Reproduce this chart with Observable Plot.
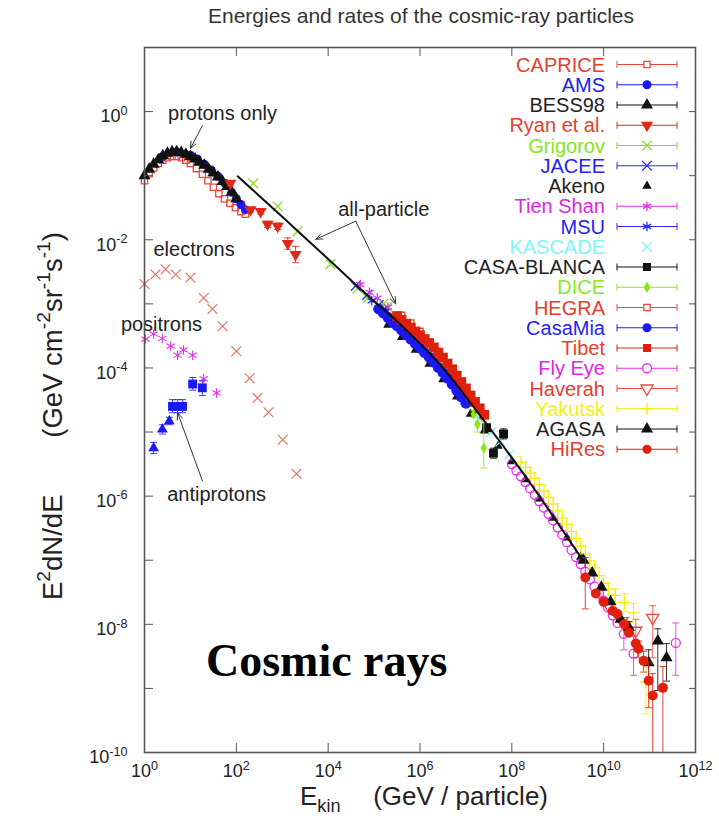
<!DOCTYPE html>
<html><head><meta charset="utf-8">
<script src="https://cdn.jsdelivr.net/npm/d3@7"></script>
<script src="https://cdn.jsdelivr.net/npm/@observablehq/plot@0.6"></script>
<style>
html,body{margin:0;padding:0;background:#fff;overflow:hidden;}
#chart svg{display:block;font-family:"Liberation Sans",Arial,sans-serif;}
#chart svg text{white-space:pre;}
</style></head><body><div id="chart"></div>
<script>
// ---------- data: [E (GeV), E^2 dN/dE, errLow, errHigh] ----------
const CAPRICE = [[1,0.0832],[1.26,0.107],[1.58,0.132],[2.0,0.155],[2.51,0.174],[3.16,0.191],[3.98,0.2],[5.01,0.2],[6.31,0.191],[7.94,0.174],[10,0.155],[13.5,0.129],[18.2,0.105],[24,0.0832],[31.6,0.0661],[41.7,0.0525],[55,0.0437],[72.4,0.0372],[95.5,0.0316],[126,0.0275],[158,0.0251]];
const AMS = [[2.51,0.2],[5.01,0.234],[10,0.209],[14.1,0.182],[20,0.151],[28.2,0.123],[39.8,0.0977],[56.2,0.0759],[79.4,0.055],[100,0.0437],[126,0.0355],[158,0.0295]];
const BESS98 = [[1,0.1],[1.26,0.126],[1.58,0.151],[2.0,0.178],[2.51,0.204],[3.16,0.224],[3.98,0.237],[5.01,0.237],[6.31,0.229],[7.94,0.216],[10,0.2],[12.6,0.182],[15.8,0.164],[20,0.145],[25.1,0.126],[31.6,0.11],[39.8,0.0955],[50.1,0.0813],[63.1,0.0676],[79.4,0.055],[100,0.0437]];
const RYAN = [[74.1,0.0759,0.069,0.083],[204,0.0295,0.027,0.032],[339,0.0275,0.025,0.030],[479,0.0174,0.0155,0.0195],[794,0.0162,0.0145,0.0182],[1318,0.00871,0.0071,0.0107],[1950,0.00589,0.0044,0.0079]];
const GRIGOROV = [[234,0.0759],[794,0.0331],[2138,0.0135],[11220,0.00417],[43650,0.00174],[72400,0.00123],[158500,0.001],[195000,0.00089]];
const JACEE = [[39800,0.00191],[70800,0.00138],[126000,0.000955],[251000,0.000631],[501000,0.000417]];
const AKENO = [[2.0e5,4.68e-4],[3.98e5,3.02e-4],[7.94e5,1.91e-4],[1.58e6,1.15e-4],[3.16e6,6.61e-5],[6.31e6,3.55e-5],[1.26e7,1.91e-5],[2.51e7,1.05e-5],[5.01e7,6.03e-6],[1e8,3.47e-6],[2.0e8,1.82e-6],[3.98e8,9.12e-7],[7.94e8,4.57e-7],[1.58e9,2.24e-7],[3.16e9,1.12e-7]];
const TIENSHAN = [[50100,0.002],[79400,0.00151],[117500,0.00123],[200000,0.000891],[2.0e6,1.58e-4],[6.31e6,7.08e-5]];
const MSU = [[89100,0.00112],[178000,0.000759]];
const KASCADE = [[2.51e6,1.05e-4],[5.01e6,6.03e-5],[1e7,3.16e-5],[2.0e7,1.66e-5],[3.55e7,1e-5],[5.62e7,7.08e-6],[8.91e7,4.47e-6],[1.41e8,2.82e-6]];
const CASABLANCA = [[2.82e7,1.17e-5,1.05e-5,1.3e-5],[3.98e7,4.68e-6,3.9e-6,5.6e-6],[6.61e7,9.33e-6,7.8e-6,1.12e-5]];
const DICE = [[1.12e7,2.82e-5,2.5e-5,3.2e-5],[1.48e7,1.91e-5,1.7e-5,2.15e-5],[1.78e7,1.32e-5,1.0e-5,1.7e-5],[2.45e7,5.62e-6,2.75e-6,1.48e-5]];
const HEGRA = [[3.98e5,6.61e-4],[6.31e5,5.01e-4],[1e6,3.72e-4]];
const CASAMIA = [[1.26e5,8.32e-4],[1.58e5,7.24e-4],[2.0e5,6.17e-4],[2.51e5,5.25e-4],[3.16e5,4.57e-4],[3.98e5,3.89e-4],[5.01e5,3.31e-4],[6.31e5,2.82e-4],[7.94e5,2.4e-4],[1e6,2.04e-4],[1.26e6,1.74e-4],[1.58e6,1.48e-4],[2.0e6,1.23e-4],[2.51e6,1.02e-4],[3.16e6,8.51e-5],[3.98e6,6.92e-5],[5.01e6,5.62e-5],[6.31e6,4.47e-5],[7.94e6,3.55e-5],[1e7,2.82e-5]];
const TIBET = [[3.16e5,6.46e-4],[3.98e5,5.62e-4],[5.01e5,4.9e-4],[6.31e5,4.27e-4],[7.94e5,3.72e-4],[1e6,3.24e-4],[1.26e6,2.82e-4],[1.58e6,2.45e-4],[2.0e6,2.09e-4],[2.51e6,1.74e-4],[3.16e6,1.45e-4],[3.98e6,1.17e-4],[5.01e6,9.55e-5],[6.31e6,7.59e-5],[7.94e6,6.03e-5],[1e7,4.79e-5],[1.26e7,3.72e-5],[1.58e7,2.95e-5],[2.0e7,2.34e-5],[2.51e7,1.86e-5]];
const FLYEYE = [[1e8,3.16e-6],[1.26e8,2.51e-6],[1.58e8,2.04e-6],[2.0e8,1.66e-6],[2.51e8,1.32e-6],[3.16e8,1.05e-6],[3.98e8,8.32e-7],[5.01e8,6.61e-7],[6.31e8,5.25e-7],[7.94e8,4.17e-7],[1e9,3.24e-7],[1.26e9,2.51e-7],[1.58e9,1.91e-7],[2.0e9,1.45e-7],[2.51e9,1.12e-7],[3.16e9,8.71e-8],[3.98e9,6.61e-8],[5.01e9,5.01e-8],[6.31e9,3.89e-8],[7.94e9,3.02e-8],[1e10,2.34e-8],[1.26e10,1.82e-8],[1.58e10,1.38e-8],[2.0e10,1.05e-8],[2.75e10,7.08e-9,4.0e-9,1.1e-8],[4.47e10,3.5e-9,1.6e-9,6.5e-9],[3.72e11,5.13e-9,1.6e-9,1.05e-8]];
const HAVERAH = [[1.26e10,2.0e-8],[2.51e10,1.12e-8],[5.01e10,7.94e-9,5.0e-9,1.2e-8],[1.17e11,1.26e-8,3.0e-9,1.95e-8]];
const YAKUTSK = [[1.58e8,3.39e-6],[2.0e8,2.82e-6],[2.51e8,2.29e-6],[3.16e8,1.91e-6],[3.98e8,1.51e-6],[5.01e8,1.2e-6],[6.31e8,9.55e-7],[7.94e8,7.59e-7],[1e9,5.89e-7],[1.26e9,4.57e-7],[1.58e9,3.63e-7],[2.0e9,2.82e-7],[2.51e9,2.19e-7],[3.16e9,1.66e-7],[3.98e9,1.26e-7],[5.01e9,9.77e-8],[6.31e9,7.59e-8],[7.94e9,5.75e-8],[1e10,4.37e-8],[1.26e10,3.55e-8,2.8e-8,4.4e-8],[1.78e10,2.82e-8,2.2e-8,3.6e-8],[2.82e10,2.19e-8,1.6e-8,3.0e-8],[4.47e10,1.51e-8,1.05e-8,2.1e-8],[8.32e10,1.26e-9,4.0e-10,2.1e-9]];
const AGASA = [[3.63e9,1.0e-7],[5.62e9,6.31e-8],[8.91e9,3.8e-8],[1.41e10,2.24e-8],[2.34e10,1.2e-8],[3.55e10,8.91e-9,7.0e-9,1.1e-8],[9.55e10,2.51e-9,1.26e-9,4.0e-9],[1.51e11,5.5e-9,9.3e-10,8.5e-9],[2.34e11,3.02e-9,1.3e-9,5.0e-9]];
const HIRES = [[3.98e9,5.37e-8,1.74e-8,1.1e-7],[6.76e9,3.02e-8],[1e10,2.24e-8],[1.58e10,1.62e-8],[2.0e10,1.45e-8],[2.82e10,1.0e-8],[3.55e10,7.41e-9],[5.01e10,5.01e-9],[5.75e10,4.17e-9,3.0e-9,5.5e-9],[7.41e10,2.69e-9,1.8e-9,3.8e-9],[9.55e10,1.32e-9,5e-10,2.5e-9],[1.17e11,7.76e-10,1e-10,1.7e-9],[1.95e11,1.02e-9,1e-10,2.2e-9]];
const ELECTRONS = [[1,2.04e-3],[1.74,2.88e-3],[2.88,3.47e-3],[4.79,2.88e-3],[10,2.57e-3],[19.5,1.23e-3],[30.2,8.32e-4],[50.1,4.47e-4],[100,1.82e-4],[195,6.92e-5],[288,3.39e-5],[501,2.04e-5],[1023,7.59e-6],[2042,2.24e-6]];
const POSITRONS = [[1.05,2.82e-4],[1.58,3.39e-4],[2.45,2.88e-4],[3.72,2.19e-4],[5.25,1.58e-4],[7.08,1.91e-4],[11.2,1.58e-4],[19.5,6.76e-5],[37.2,4.07e-5]];
const ANTIP_TRI = [[1.58,5.62e-6,4.6e-6,6.9e-6],[2.45,1.1e-5,9.3e-6,1.3e-5],[3.47,1.48e-5,1.3e-5,1.7e-5]];
const ANTIP_SQ = [[4.07,2.51e-5,2.0e-5,3.2e-5],[5.25,2.51e-5,2.0e-5,3.2e-5],[6.76,2.51e-5,2.0e-5,3.2e-5],[11.2,5.62e-5,4.5e-5,7.1e-5],[18.2,4.9e-5,3.7e-5,6.3e-5]];
const ALL_PARTICLE = [[107,0.0977],[1000,0.0229],[1e4,5.01e-3],[1e5,1.1e-3],[3.16e5,5.37e-4],[1e6,2.4e-4],[3.16e6,1e-4],[1e7,3.55e-5],[3.16e7,1.2e-5],[1e8,3.98e-6],[3.16e8,1.26e-6],[1e9,3.8e-7],[3.16e9,1.12e-7]];

const legendNames = ["CAPRICE","AMS","BESS98","Ryan et al.","Grigorov","JACEE","Akeno","Tien Shan","MSU","KASCADE","CASA-BLANCA","DICE","HEGRA","CasaMia","Tibet","Fly Eye","Haverah","Yakutsk","AGASA","HiRes"];
const legendData = [CAPRICE,AMS,BESS98,RYAN,GRIGOROV,JACEE,AKENO,TIENSHAN,MSU,KASCADE,CASABLANCA,DICE,HEGRA,CASAMIA,TIBET,FLYEYE,HAVERAH,YAKUTSK,AGASA,HIRES];

const annotLabels = ["protons only","all-particle","electrons","positrons","antiprotons"];
const annotE = [50, 1.62e5, 12, 2.34, 37.2];
const annotF = [0.93, 0.0295, 7.08e-3, 4.68e-4, 1.07e-6];
const arrowFrom = [[18.2,0.603],[3.98e4,0.0195],[3.98e4,0.0195],[18.2,1.74e-6]];
const arrowTo = [[10,0.265],[5.37e3,0.0102],[2.95e5,1e-3],[5.25,2.0e-5]];
const bigLabel = {text:"Cosmic rays", E:9.3e3, F:2.69e-9};

const xLabelTicks = [1,1e2,1e4,1e6,1e8,1e10,1e12];
const xMinorTicks = [1e2,1e4,1e6,1e8,1e10];
const yLabelTicks = [1e-10,1e-8,1e-6,1e-4,1e-2,1];
const yMinorTicks = [1e-9,1e-8,1e-7,1e-6,1e-5,1e-4,1e-3,1e-2,1e-1,1];

// ---------- styles ----------
const triDown = {draw(ctx, size){ const y = -Math.sqrt(size/(Math.sqrt(3)*3)); ctx.moveTo(0,-2*y); ctx.lineTo(-Math.sqrt(3)*y, y); ctx.lineTo(Math.sqrt(3)*y, y); ctx.closePath(); }};
const capSym = {draw(ctx, size){ const r = Math.sqrt(size/Math.PI); ctx.moveTo(-r,0); ctx.lineTo(r,0); }};
const RED="#e0200c", REDL="#e84a3a", BLUE="#1a1af0", BLK="#111", MAG="#e030ea";
const STY = {
  "CAPRICE":{sym:"square2",c:REDL,fill:false,r:4,t:"#e5402e",bar:true},
  "AMS":{sym:"circle",c:BLUE,fill:true,r:4.5,t:"#2020f0",bar:true},
  "BESS98":{sym:"triangle",c:BLK,fill:true,r:4.5,t:"#222",bar:true},
  "Ryan et al.":{sym:triDown,c:"#e02818",fill:true,r:4.5,t:"#e5402e",bar:true},
  "Grigorov":{sym:"times",c:"#80e020",fill:false,r:4.5,t:"#80e81c",bar:true},
  "JACEE":{sym:"times",c:"#2a2af0",fill:false,r:4.5,t:"#2424f0",bar:true},
  "Akeno":{sym:"triangle",c:BLK,fill:true,r:3.5,t:"#222",bar:false},
  "Tien Shan":{sym:"asterisk",c:MAG,fill:false,r:4.5,t:"#e024e8",bar:true},
  "MSU":{sym:"asterisk",c:"#2a2af0",fill:false,r:4.5,t:"#2424f0",bar:true},
  "KASCADE":{sym:"times",c:"#7ff2f8",fill:false,r:4.5,t:"#80f6fc",bar:false},
  "CASA-BLANCA":{sym:"square",c:BLK,fill:true,r:5,t:"#222",bar:true},
  "DICE":{sym:"diamond",c:"#88e818",fill:true,r:3.5,t:"#8ae81c",bar:true},
  "HEGRA":{sym:"square2",c:REDL,fill:false,r:4,t:"#e5402e",bar:true},
  "CasaMia":{sym:"circle",c:BLUE,fill:true,r:5.5,t:"#2424f0",bar:true},
  "Tibet":{sym:"square",c:RED,fill:true,r:5.5,t:"#e5402e",bar:true},
  "Fly Eye":{sym:"circle",c:MAG,fill:false,r:4.5,t:"#e024e8",bar:true},
  "Haverah":{sym:triDown,c:REDL,fill:false,r:4.5,t:"#e5402e",bar:true},
  "Yakutsk":{sym:"plus",c:"#f2ee00",fill:false,r:4,t:"#f4f010",bar:true},
  "AGASA":{sym:"triangle",c:BLK,fill:true,r:4.5,t:"#222",bar:true},
  "HiRes":{sym:"circle",c:RED,fill:true,r:5,t:"#e5402e",bar:true}
};

const toRows = (arr) => arr.map(d => ({E:d[0], F:d[1], lo:d[2], hi:d[3]}));

function seriesMarks(arr, st){
  const pts = toRows(arr);
  const errs = pts.filter(d => d.lo != null);
  const m = [];
  if (errs.length){
    m.push(Plot.ruleX(errs, {x:"E", y1:"lo", y2:"hi", stroke:st.c, strokeWidth:1, strokeOpacity:0.85}));
    m.push(Plot.dot(errs, {x:"E", y:"lo", symbol:capSym, r:3.5, stroke:st.c, strokeWidth:1, strokeOpacity:0.85}));
    m.push(Plot.dot(errs, {x:"E", y:"hi", symbol:capSym, r:3.5, stroke:st.c, strokeWidth:1, strokeOpacity:0.85}));
  }
  m.push(Plot.dot(pts, {x:"E", y:"F", symbol:st.sym, r:st.r,
    fill: st.fill ? st.c : "none", stroke: st.fill ? "none" : st.c, strokeWidth: st.sw || 1.3}));
  return m;
}

const expFmt = d => "10^" + Math.round(Math.log10(d));
const marks = [];
marks.push(...seriesMarks(ELECTRONS, {sym:"times", c:"#ea6a5a", fill:false, r:4.5, sw:1.1}));
marks.push(...seriesMarks(POSITRONS, {sym:"asterisk", c:MAG, fill:false, r:4.5, sw:1.1}));
marks.push(...seriesMarks(ANTIP_TRI, {sym:"triangle", c:BLUE, fill:true, r:4}));
marks.push(...seriesMarks(ANTIP_SQ, {sym:"square", c:BLUE, fill:true, r:5}));
legendNames.forEach((n,i) => marks.push(...seriesMarks(legendData[i], STY[n])));
marks.push(Plot.line(toRows(ALL_PARTICLE), {x:"E", y:"F", stroke:"#111", strokeWidth:2, curve:"monotone-x"}));
marks.push(Plot.arrow(arrowFrom.map((f,i)=>({x1:f[0],y1:f[1],x2:arrowTo[i][0],y2:arrowTo[i][1]})),
  {x1:"x1", y1:"y1", x2:"x2", y2:"y2", stroke:"#333", strokeWidth:1, headLength:11, headAngle:45}));
marks.push(Plot.text(annotLabels.map((t,i)=>({t, E:annotE[i], F:annotF[i]})), {x:"E", y:"F", text:"t", fontSize:20, fill:"#222"}));
marks.push(Plot.text([bigLabel], {x:"E", y:"F", text:"text", fontSize:46, fontWeight:"bold", fontFamily:"Liberation Serif, Times New Roman, serif", fill:"#000"}));
marks.push(Plot.frame({stroke:"#555", strokeWidth:1.6}));
marks.push(Plot.axisX({ticks:xMinorTicks, anchor:"bottom", tickSize:-9, tickFormat:()=> "", label:null, stroke:"#555"}));
marks.push(Plot.axisX({ticks:xMinorTicks, anchor:"top", tickSize:-8, tickFormat:()=> "", label:null, stroke:"#555"}));
marks.push(Plot.axisY({ticks:yMinorTicks, anchor:"left", tickSize:-9, tickFormat:()=> "", label:null, stroke:"#555"}));
marks.push(Plot.axisY({ticks:yMinorTicks, anchor:"right", tickSize:-7, tickFormat:()=> "", label:null, stroke:"#555"}));
marks.push(Plot.axisX({ticks:xLabelTicks, anchor:"bottom", tickSize:0, tickPadding:12, tickFormat:expFmt, fontSize:18, label:null, fill:"#222"}));
marks.push(Plot.axisY({ticks:yLabelTicks, anchor:"left", tickSize:0, tickPadding:17, tickFormat:expFmt, fontSize:18, label:null, fill:"#222", dy:5}));

const chart = Plot.plot({
  width:719, height:816,
  marginLeft:144, marginRight:24, marginTop:47, marginBottom:64,
  x:{type:"log", domain:[1,1e12]},
  y:{type:"log", domain:[1e-10,10]},
  style:{fontFamily:"Liberation Sans, Arial, sans-serif", background:"#fff", overflow:"visible"},
  marks
});
document.getElementById("chart").appendChild(chart);
const svg = d3.select(chart);

function rich(sel, parts, fs){
  let shift = 0;
  for (const [s,k] of parts){
    const t = sel.append("tspan").text(s);
    const target = k === "sup" ? -0.42*fs : k === "sub" ? 0.25*fs : 0;
    if (target - shift !== 0) t.attr("dy", target - shift);
    shift = target;
    if (k) t.attr("font-size", fs*0.7);
  }
}
svg.selectAll("text").each(function(){
  const m = /^10\^(-?\d+)$/.exec(this.textContent);
  if (m){ const s = d3.select(this); s.text(""); rich(s, [["10"],[m[1],"sup"]], 18); }
});

svg.append("text").attr("x",421).attr("y",23).attr("text-anchor","middle").attr("font-size",21).attr("fill","#333")
  .text("Energies and rates of the cosmic-ray particles");
const yl1 = svg.append("text").attr("transform","translate(62,600) rotate(-90)").attr("text-anchor","start").attr("font-size",27.5).attr("fill","#222");
rich(yl1, [["E"],["2","sup"],["dN/dE"]], 27.5);
const yl2 = svg.append("text").attr("transform","translate(62,232) rotate(-90)").attr("text-anchor","end").attr("font-size",27.5).attr("fill","#222");
rich(yl2, [["(GeV cm"],["-2","sup"],["sr"],["-1","sup"],["s"],["-1","sup"],[")"]], 27.5);
const xl1 = svg.append("text").attr("x",300).attr("y",805).attr("text-anchor","start").attr("font-size",26).attr("fill","#222");
rich(xl1, [["E"],["kin","sub"]], 26);
svg.append("text").attr("x",548).attr("y",805).attr("text-anchor","end").attr("font-size",26).attr("fill","#222").text("(GeV / particle)");

const symType = {circle:d3.symbolCircle, square:d3.symbolSquare, square2:d3.symbolSquare2, triangle:d3.symbolTriangle,
  times:d3.symbolTimes, asterisk:d3.symbolAsterisk, plus:d3.symbolPlus, diamond:d3.symbolDiamond};
const lg = svg.append("g");
legendNames.forEach((n,i) => {
  const st = STY[n];
  const cy = 64.5 + 20.25*i;
  const r = Math.min(st.r, 4.5);
  lg.append("text").attr("x",605).attr("y",cy+7).attr("text-anchor","end").attr("font-size",20).attr("fill",st.t).text(n);
  if (st.bar){
    lg.append("line").attr("x1",617).attr("x2",677).attr("y1",cy).attr("y2",cy).attr("stroke",st.c).attr("stroke-width",1);
    lg.append("line").attr("x1",617).attr("x2",617).attr("y1",cy-3.5).attr("y2",cy+3.5).attr("stroke",st.c);
    lg.append("line").attr("x1",677).attr("x2",677).attr("y1",cy-3.5).attr("y2",cy+3.5).attr("stroke",st.c);
  }
  const type = typeof st.sym === "string" ? symType[st.sym] : st.sym;
  lg.append("path").attr("transform",`translate(647,${cy})`).attr("d", d3.symbol(type, Math.PI*r*r)())
    .attr("fill", st.fill ? st.c : (st.sym==="square2"||st.sym==="circle"||st.sym===triDown) ? "#fff" : "none")
    .attr("stroke", st.fill ? "none" : st.c).attr("stroke-width",1.3);
});
</script></body></html>
